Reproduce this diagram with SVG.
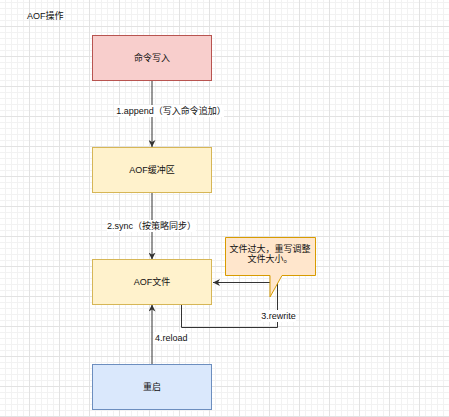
<svg xmlns="http://www.w3.org/2000/svg" width="449" height="417" viewBox="0 0 449 417">
<defs>
<pattern id="grid" x="29" y="26" width="30" height="30" patternUnits="userSpaceOnUse">
<path d="M6.5,0V30M12.5,0V30M18.5,0V30M24.5,0V30M0,6.5H30M0,12.5H30M0,18.5H30M0,24.5H30" stroke="#f2f2f2" stroke-width="1" fill="none"/>
<path d="M0.5,0V30M0,0.5H30" stroke="#e2e2e2" stroke-width="1" fill="none"/>
</pattern>
<marker id="arr" viewBox="0 0 10 10" refX="10" refY="5" markerWidth="7" markerHeight="7" markerUnits="userSpaceOnUse" orient="auto">
<path d="M0,0 L10,5 L0,10 L3,5 Z" fill="#333"/>
</marker>
</defs>
<style>
text{font-family:"Liberation Sans","Noto Sans CJK SC",sans-serif;font-size:9px;fill:#111;}
.c{text-anchor:middle;dominant-baseline:central;}
.edge{stroke:#333;stroke-width:1;fill:none;}
.lbg{fill:#fff;}
</style>
<rect width="449" height="417" fill="#fff"/>
<rect width="449" height="417" fill="url(#grid)"/>
<text x="27" y="16" dominant-baseline="central">AOF操作</text>
<g id="connectors">
<line class="edge" x1="152" y1="80.5" x2="152" y2="147" marker-end="url(#arr)"/>
<rect class="lbg" x="118" y="105" width="106" height="12"/>
<text class="c" x="171" y="111">1.append（写入命令追加）</text>
<line class="edge" x1="152" y1="192.5" x2="152" y2="259.5" marker-end="url(#arr)"/>
<rect class="lbg" x="107" y="220" width="89" height="12"/>
<text class="c" x="151.5" y="226">2.sync（按策略同步）</text>
<line class="edge" x1="152" y1="364" x2="152" y2="304.5" marker-end="url(#arr)"/>
<rect class="lbg" x="154" y="332" width="34" height="12"/>
<text x="155" y="338" dominant-baseline="central">4.reload</text>
<path class="edge" d="M181.5,304.5V327.5H277.5V282.5H213" marker-end="url(#arr)"/>
<rect class="lbg" x="261" y="310" width="35" height="12"/>
<text class="c" x="278.5" y="316">3.rewrite</text>
</g>
<g id="n1">
<rect x="92.5" y="35.5" width="119" height="45" fill="#f8cecc" stroke="#b85450"/>
<text class="c" x="152" y="58">命令写入</text>
</g>
<g id="n2">
<rect x="92.5" y="147.5" width="119" height="45" fill="#fff2cc" stroke="#d6b656"/>
<text class="c" x="152" y="170">AOF缓冲区</text>
</g>
<g id="n3">
<rect x="92.5" y="259.5" width="119" height="45" fill="#fff2cc" stroke="#d6b656"/>
<text class="c" x="152" y="282">AOF文件</text>
</g>
<g id="n4">
<rect x="92.5" y="364.5" width="119" height="45" fill="#dae8fc" stroke="#6c8ebf"/>
<text class="c" x="152" y="387">重启</text>
</g>
<g id="callout">
<path d="M225.5,237.5H315.5V275.5H282L270,297V275.5H225.5Z" fill="#ffe6cc" stroke="#d79b00"/>
<text class="c" x="270" y="249">文件过大，重写调整</text>
<text class="c" x="270" y="259">文件大小。</text>
</g>
</svg>
